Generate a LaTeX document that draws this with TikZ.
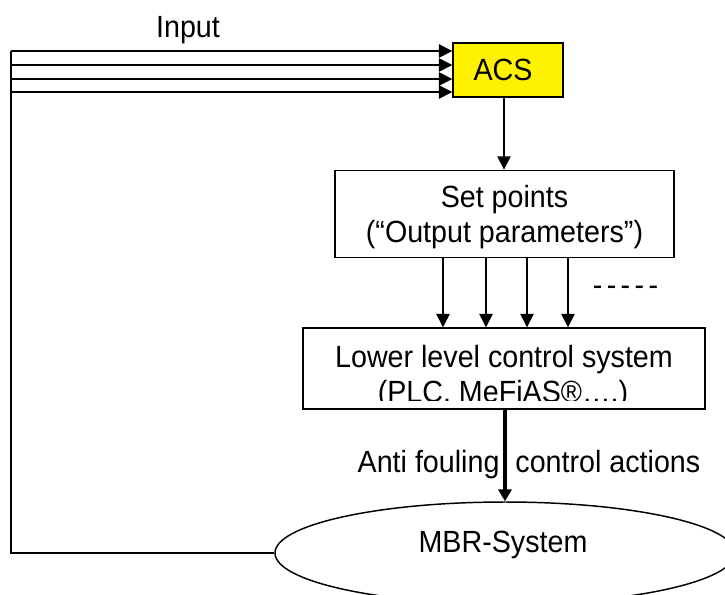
\documentclass[tikz,border=0pt]{standalone}
\usepackage{fontspec}
\usepackage{graphicx}
\setmainfont{Liberation Sans}
\usetikzlibrary{arrows.meta,shapes.geometric}
\newcommand{\vtx}[1]{\scalebox{1}[1.07]{#1}}
\begin{document}
\begin{tikzpicture}[x=0.75pt,y=-0.75pt,
  every node/.style={font=\fontsize{21.5}{25}\selectfont},
  boxnode/.style={draw,line width=1.1pt,inner sep=0pt},
  txt/.style={anchor=base,inner sep=0pt},
  arr/.style={line width=1.1pt,-{Triangle[length=10pt,width=10pt]}},
  thickarr/.style={line width=3pt,-{Triangle[length=9pt,width=10pt]}},
  ln/.style={line width=1.1pt}]
\clip (0,0) rectangle (725,594);
\fill[white] (0,0) rectangle (725,594);
% boxes
\node[boxnode,fill=yellow,minimum width=82.5pt,minimum height=40.5pt] (acs) at (508,70) {};
\node[boxnode,minimum width=254.25pt,minimum height=65.5pt] (set) at (504.5,214) {};
\node[boxnode,minimum width=301.5pt,minimum height=60.75pt] (low) at (504,368.5) {};
\node[draw,ellipse,line width=1.1pt,inner sep=0pt,minimum width=345pt,minimum height=76.5pt] (mbr) at (505,553) {};
% texts
\node[txt] (acst) at (503,80) {\vtx{ACS}};
\node[txt] (sett1) at (504.5,207) {\vtx{Set points}};
\node[txt] (sett2) at (504.5,242.5) {\vtx{(“Output parameters”)}};
\node[txt] (lowt1) at (504,367) {\vtx{Lower level control system}};
\begin{scope}
\clip (303,370) rectangle (705,400.5);
\node[txt] (lowt2) at (503,402) {\vtx{(PLC. MeFiAS®….)}};
\end{scope}
\node[txt] (mbrt) at (503,552) {\vtx{MBR-System}};
\node[txt] (inlab) at (188,37) {\vtx{Input}};
\node[txt] (dots) at (625.5,295) {\vtx{-\kern3.3pt-\kern3.3pt-\kern3.3pt-\kern3.3pt-}};
\node[txt] (afl) at (529,472) {\vtx{Anti fouling\kern12pt control actions}};
% coordinates
\coordinate (c1) at (11,51);
\coordinate (c2) at (11,65);
\coordinate (c3) at (11,79);
\coordinate (c4) at (11,92);
\coordinate (cb) at (11,553);
% connectors
\draw[ln] (mbr.west) -- (cb) -- (c1);
\draw[arr] (c1) -- (c1 -| acs.west);
\draw[arr] (c2) -- (c2 -| acs.west);
\draw[arr] (c3) -- (c3 -| acs.west);
\draw[arr] (c4) -- (c4 -| acs.west);
\draw[arr] (acs.south -| 504,0) -- (set.north -| 504,0);
\foreach \xx in {443,486,527,568}{
  \draw[arr] (set.south -| \xx,0) -- (low.north -| \xx,0);
}
\draw[thickarr] (low.south -| 505,0) -- (mbr.north);
\end{tikzpicture}
\end{document}
